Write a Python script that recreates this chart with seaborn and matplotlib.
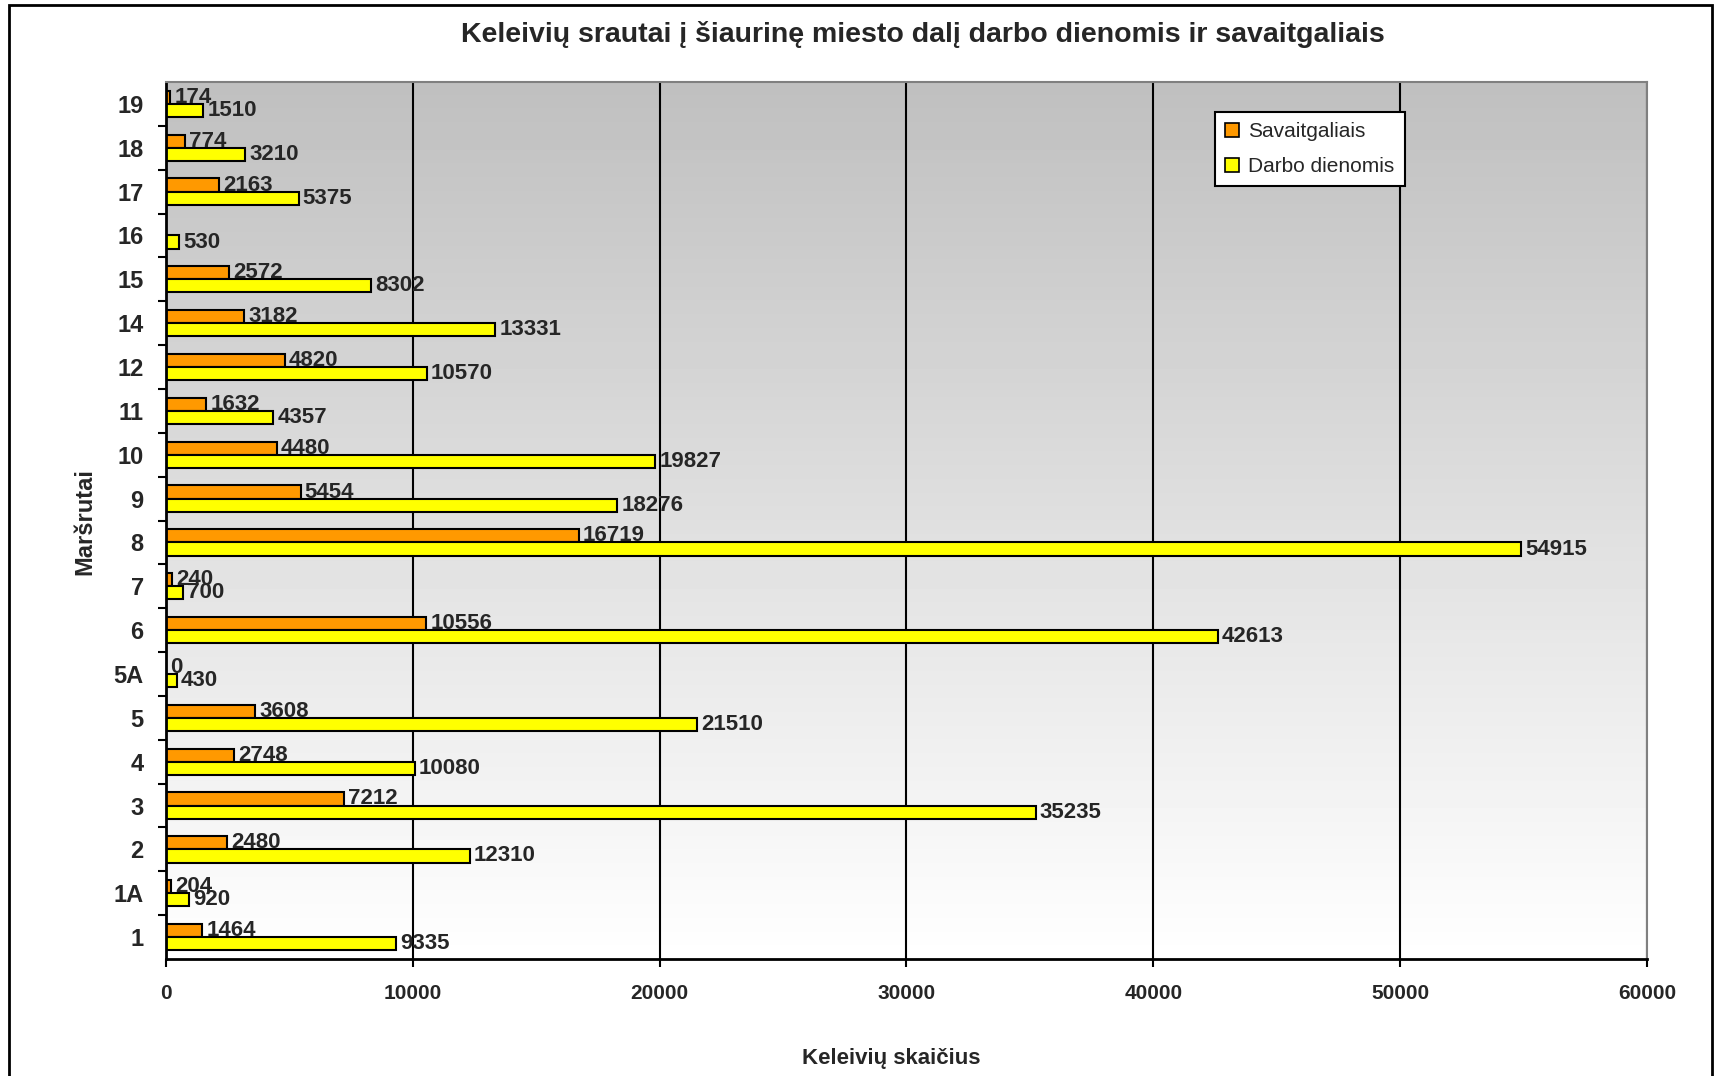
import numpy as np
import pandas as pd
import matplotlib
matplotlib.use("Agg")
import matplotlib.pyplot as plt
from matplotlib.patches import Patch, Rectangle
import seaborn as sns

# routes listed top to bottom as in the chart
routes = ['19', '18', '17', '16', '15', '14', '12', '11', '10', '9',
          '8', '7', '6', '5A', '5', '4', '3', '2', '1A', '1']
weekend = [174, 774, 2163, np.nan, 2572, 3182, 4820, 1632, 4480, 5454,
           16719, 240, 10556, 0, 3608, 2748, 7212, 2480, 204, 1464]
weekday = [1510, 3210, 5375, 530, 8302, 13331, 10570, 4357, 19827, 18276,
           54915, 700, 42613, 430, 21510, 10080, 35235, 12310, 920, 9335]
series = ['Savaitgaliais', 'Darbo dienomis']
colors = ['#FF9900', '#FFFF00']

df = pd.concat([
    pd.DataFrame({'route': routes, 'value': weekend, 'series': series[0]}),
    pd.DataFrame({'route': routes, 'value': weekday, 'series': series[1]}),
], ignore_index=True)

sns.set_style("white")
plt.rcParams['font.family'] = ['Liberation Sans', 'DejaVu Sans']

fig = plt.figure(figsize=(17.23, 10.76), dpi=100)
ax = fig.add_axes([0.0963, 0.1087, 0.8596, 0.8151])

sns.barplot(data=df, x='value', y='route', hue='series', order=routes,
            hue_order=series, palette=colors, width=0.6, orient='h',
            edgecolor='black', linewidth=1.5, saturation=1, legend=False, ax=ax)

for c in ax.containers:
    ax.bar_label(c, labels=[f'{v:.0f}' for v in c.datavalues], padding=3,
                 fontsize=16, fontweight='bold')

# grey-to-white background
grad = np.linspace(0.75, 1.0, 256).reshape(-1, 1)
ax.imshow(grad, cmap='gray', vmin=0, vmax=1, extent=[0, 1, 0, 1], origin='upper',
          transform=ax.transAxes, aspect='auto', zorder=0)
ax.set_xlim(0, 60000)
ax.set_ylim(len(routes) - 0.5, -0.5)
ax.set_xticks(range(0, 60001, 10000))
ax.grid(axis='x', color='black', linewidth=1.5, zorder=1)
ax.set_axisbelow(True)

ax.set_yticks(np.arange(len(routes) - 1) + 0.5, minor=True)
ax.tick_params(axis='y', which='major', length=0, pad=16, labelsize=17)
ax.tick_params(axis='y', which='minor', length=6, width=1.5, color='black', left=True)
ax.tick_params(axis='x', length=6, width=1.5, color='black', bottom=True, pad=12, labelsize=15)
for lab in ax.get_xticklabels() + ax.get_yticklabels():
    lab.set_fontweight('bold')
ax.set_xlabel('')
ax.set_ylabel('')

for side in ['left', 'bottom']:
    ax.spines[side].set_color('black')
    ax.spines[side].set_linewidth(2)
for side in ['top', 'right']:
    ax.spines[side].set_color('#808080')
    ax.spines[side].set_linewidth(1.5)

handles = [Patch(facecolor=col, edgecolor='black', linewidth=1.2, label=s)
           for col, s in zip(colors, series)]
leg = ax.legend(handles=handles, loc='upper left', bbox_to_anchor=(0.7052, 0.8959),
                bbox_transform=fig.transFigure, borderaxespad=0, fontsize=15,
                fancybox=False, framealpha=1, edgecolor='black',
                handlelength=0.65, handleheight=0.65, handletextpad=0.45,
                labelspacing=0.75, borderpad=0.5)
leg.get_frame().set_linewidth(1.5)

fig.text(0.5357, 0.9675, 'Keleivių srautai į šiaurinę miesto dalį darbo dienomis ir savaitgaliais',
         ha='center', va='center', fontsize=20.5, fontweight='bold')
fig.text(0.517, 0.0167, 'Keleivių skaičius', ha='center', va='center',
         fontsize=16, fontweight='bold')
fig.text(0.0493, 0.515, 'Maršrutai', ha='center', va='center', rotation=90,
         fontsize=17, fontweight='bold')

fig.patches.append(Rectangle((9 / 1723, -0.01), 1703 / 1723, 1.01 - 5 / 1076,
                             transform=fig.transFigure, fill=False,
                             edgecolor='black', linewidth=2))

fig.savefig('out.png', dpi=100)
